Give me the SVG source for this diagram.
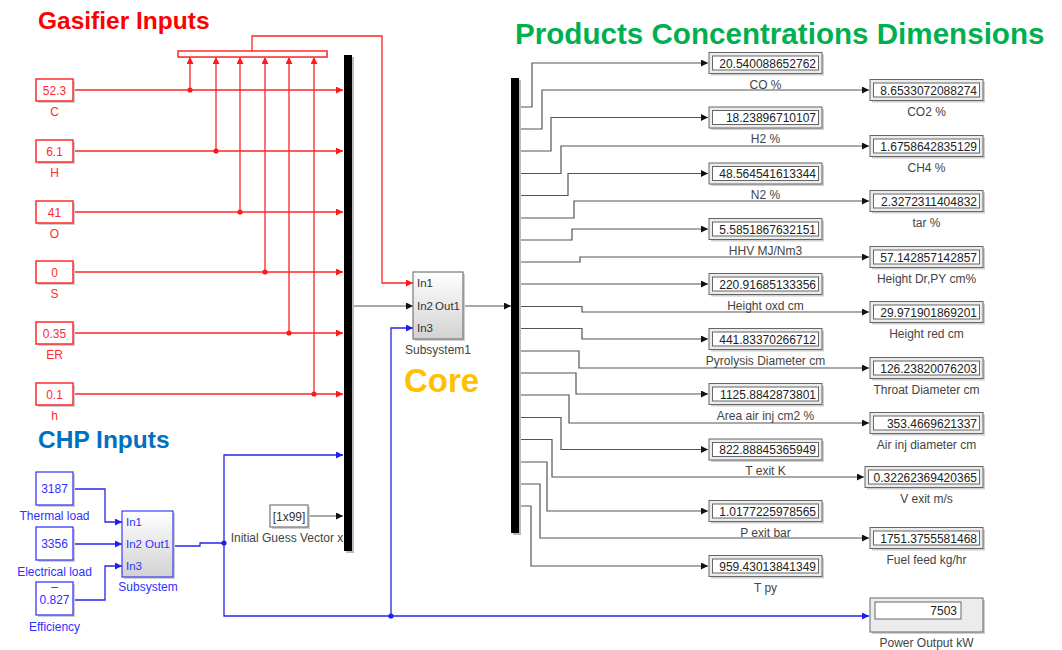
<svg xmlns="http://www.w3.org/2000/svg" width="1062" height="650" viewBox="0 0 1062 650">
<defs>
<marker id="arR" viewBox="0 0 10 10" refX="10" refY="5" markerWidth="8" markerHeight="7" markerUnits="userSpaceOnUse" orient="auto"><path d="M0,0 L10,5 L0,10 z" fill="#ff1a1a"/></marker>
<marker id="arB" viewBox="0 0 10 10" refX="10" refY="5" markerWidth="8" markerHeight="7" markerUnits="userSpaceOnUse" orient="auto"><path d="M0,0 L10,5 L0,10 z" fill="#1f1fee"/></marker>
<marker id="arK" viewBox="0 0 10 10" refX="10" refY="5" markerWidth="8" markerHeight="7" markerUnits="userSpaceOnUse" orient="auto"><path d="M0,0 L10,5 L0,10 z" fill="#111"/></marker>
<linearGradient id="subg" x1="0" y1="0" x2="0" y2="1"><stop offset="0" stop-color="#ffffff"/><stop offset="1" stop-color="#d2d2d2"/></linearGradient>
</defs>
<style>
text{font-family:"Liberation Sans",Arial,Helvetica,sans-serif}
.ttl{font-weight:bold}
.r{stroke:#ff2424;stroke-width:1.3;fill:none}
.b{stroke:#2626f0;stroke-width:1.3;fill:none}
.k{stroke:#555;stroke-width:1.2;fill:none}
.mr{marker-end:url(#arR)}
.mb{marker-end:url(#arB)}
.mk{marker-end:url(#arK)}
.dr{fill:#ff1a1a}
.db{fill:#1f1fee}
.shd{fill:#cfcfcf}
.cr{fill:#fff;stroke:#ff2a2a;stroke-width:1.5}
.cb{fill:#fff;stroke:#3a3aff;stroke-width:1.3}
.tr{font-size:12px;fill:#ff2a2a;text-anchor:middle}
.tb{font-size:12px;fill:#2f2fff;text-anchor:middle}
.do{fill:#ececec;stroke:#666;stroke-width:1}
.di{fill:#fff;stroke:#666;stroke-width:1}
.val{font-size:12px;fill:#222;text-anchor:end}
.lbl{font-size:12px;fill:#444;text-anchor:middle}
.sub{fill:url(#subg);stroke-width:1.2}
.port{font-size:11.5px}
.bar{fill:#000}
</style>

<!-- titles -->
<text class="ttl" x="38" y="29" font-size="24.5" fill="#ff0000">Gasifier Inputs</text>
<text class="ttl" x="38" y="448" font-size="24.5" fill="#0070c0">CHP Inputs</text>
<text class="ttl" x="515" y="44" font-size="29.6" fill="#00b050">Products Concentrations Dimensions</text>
<text class="ttl" x="404" y="392" font-size="33" fill="#ffc000">Core</text>

<!-- connectors -->
<g id="connectors">
  <path class="r mr" d="M73,90 H343"/>
  <path class="r mr" d="M73,151 H343"/>
  <path class="r mr" d="M73,212 H343"/>
  <path class="r mr" d="M73,272 H343"/>
  <path class="r mr" d="M73,333 H343"/>
  <path class="r mr" d="M73,394 H343"/>
  <path class="r mr" d="M190,90 V57"/>
  <path class="r mr" d="M216,151 V57"/>
  <path class="r mr" d="M240,212 V57"/>
  <path class="r mr" d="M265,272 V57"/>
  <path class="r mr" d="M289,333 V57"/>
  <path class="r mr" d="M314,394 V57"/>
  <path class="r mr" d="M252,51 V36 H382 V283 H413"/>
  <circle class="dr" cx="190" cy="90" r="2.6"/>
  <circle class="dr" cx="216" cy="151" r="2.6"/>
  <circle class="dr" cx="240" cy="212" r="2.6"/>
  <circle class="dr" cx="265" cy="272" r="2.6"/>
  <circle class="dr" cx="289" cy="333" r="2.6"/>
  <circle class="dr" cx="314" cy="394" r="2.6"/>
  <path class="b mb" d="M73,489 H105 V522 H122"/>
  <path class="b mb" d="M73,544 H122"/>
  <path class="b mb" d="M73,600 H105 V566 H122"/>
  <path class="b" d="M173,546 H200 V543 H224"/>
  <path class="b mb" d="M224,543 V455 H343"/>
  <path class="b mb" d="M224,543 V616 H869"/>
  <path class="b mb" d="M391,616 V328 H413"/>
  <circle class="db" cx="224" cy="543" r="2.6"/>
  <circle class="db" cx="391" cy="616" r="2.6"/>
  <path class="k mk" d="M308,516 H343"/>
  <path class="k mk" d="M352,306 H413"/>
  <path class="k mk" d="M463,306 H511"/>
  <path class="k mk" d="M519,107 H532 V63 H708"/>
  <path class="k mk" d="M519,129 H542 V90 H869"/>
  <path class="k mk" d="M519,151 H551 V117.5 H708"/>
  <path class="k mk" d="M519,173.5 H561 V146 H869"/>
  <path class="k mk" d="M519,195.5 H568 V173.5 H708"/>
  <path class="k mk" d="M519,218 H574 V201 H869"/>
  <path class="k mk" d="M519,240 H572 V229 H708"/>
  <path class="k mk" d="M519,262 H580 V257 H869"/>
  <path class="k mk" d="M519,284 H708"/>
  <path class="k mk" d="M519,306.5 H582 V312 H869"/>
  <path class="k mk" d="M519,328.5 H582 V339 H708"/>
  <path class="k mk" d="M519,351 H579 V368 H869"/>
  <path class="k mk" d="M519,373 H576 V394 H708"/>
  <path class="k mk" d="M519,395 H569 V423 H869"/>
  <path class="k mk" d="M519,417.5 H561 V449.5 H708"/>
  <path class="k mk" d="M519,439.5 H552 V477 H864"/>
  <path class="k mk" d="M519,462 H547 V511 H708"/>
  <path class="k mk" d="M519,484 H540 V538 H869"/>
  <path class="k mk" d="M519,506 H531 V566 H708"/>
</g>

<!-- gasifier constants -->
<g id="c-C"><rect class="shd" x="38" y="81" width="37" height="22"/><rect class="cr" x="36" y="79" width="37" height="22"/><text class="tr" x="54.5" y="94.5">52.3</text><text class="tr" x="54.5" y="116">C</text></g>
<g id="c-H"><rect class="shd" x="38" y="142" width="37" height="22"/><rect class="cr" x="36" y="140" width="37" height="22"/><text class="tr" x="54.5" y="155.5">6.1</text><text class="tr" x="54.5" y="177">H</text></g>
<g id="c-O"><rect class="shd" x="38" y="203" width="37" height="22"/><rect class="cr" x="36" y="201" width="37" height="22"/><text class="tr" x="54.5" y="216.5">41</text><text class="tr" x="54.5" y="238">O</text></g>
<g id="c-S"><rect class="shd" x="38" y="263" width="37" height="22"/><rect class="cr" x="36" y="261" width="37" height="22"/><text class="tr" x="54.5" y="276.5">0</text><text class="tr" x="54.5" y="298">S</text></g>
<g id="c-ER"><rect class="shd" x="38" y="324" width="37" height="22"/><rect class="cr" x="36" y="322" width="37" height="22"/><text class="tr" x="54.5" y="337.5">0.35</text><text class="tr" x="54.5" y="359">ER</text></g>
<g id="c-h"><rect class="shd" x="38" y="385" width="37" height="22"/><rect class="cr" x="36" y="383" width="37" height="22"/><text class="tr" x="54.5" y="398.5">0.1</text><text class="tr" x="54.5" y="420">h</text></g>

<g id="mux-gas"><rect class="shd" x="179" y="52" width="149" height="6"/><rect x="178" y="51" width="149" height="6" fill="#fff" stroke="#ff2a2a" stroke-width="1.5"/></g>

<!-- CHP constants -->
<g id="c-thermal"><rect class="shd" x="38" y="474" width="37" height="33"/><rect class="cb" x="36" y="472" width="37" height="33"/><text class="tb" x="54.5" y="493">3187</text><text class="tb" x="54.5" y="520">Thermal load</text></g>
<g id="c-elec"><rect class="shd" x="38" y="529" width="37" height="33"/><rect class="cb" x="36" y="527" width="37" height="33"/><text class="tb" x="54.5" y="548">3356</text><text class="tb" x="54.5" y="576">Electrical load</text></g>
<g id="c-eff"><rect class="shd" x="38" y="584" width="37" height="33"/><rect class="cb" x="36" y="582" width="37" height="33"/><text class="tb" x="54.5" y="591" font-size="9">–</text><text class="tb" x="54.5" y="604">0.827</text><text class="tb" x="54.5" y="631">Efficiency</text></g>

<g id="subsystem"><rect class="shd" x="124" y="513" width="51" height="66"/><rect class="sub" x="122" y="511" width="51" height="66" stroke="#3a3aff"/><text class="port" x="126" y="526" fill="#2f2fff">In1</text><text class="port" x="126" y="548" fill="#2f2fff">In2</text><text class="port" x="170" y="548" fill="#2f2fff" text-anchor="end">Out1</text><text class="port" x="126" y="570" fill="#2f2fff">In3</text><text class="tb" x="148" y="591">Subsystem</text></g>

<g id="init-guess"><rect class="shd" x="272" y="507" width="38" height="22"/><rect x="270" y="505" width="38" height="22" fill="#fff" stroke="#777" stroke-width="1.2"/><text x="289" y="520.5" font-size="12" fill="#333" text-anchor="middle">[1x99]</text><text class="lbl" x="287" y="542">Initial Guess Vector x</text></g>

<g id="mux-main"><rect x="346" y="57" width="8" height="496" fill="#bbb"/><rect class="bar" x="344" y="55" width="8" height="496"/></g>
<g id="demux"><rect x="513" y="80" width="8" height="455" fill="#bbb"/><rect class="bar" x="511" y="78" width="8" height="455"/></g>

<g id="subsystem1"><rect class="shd" x="415" y="274" width="50" height="67"/><rect class="sub" x="413" y="272" width="50" height="67" stroke="#777"/><text class="port" x="417" y="287" fill="#333">In1</text><text class="port" x="417" y="310" fill="#333">In2</text><text class="port" x="460" y="310" fill="#333" text-anchor="end">Out1</text><text class="port" x="417" y="332" fill="#333">In3</text><text class="lbl" x="438" y="354">Subsystem1</text></g>

<g id="d-co" transform="translate(709,52.5)"><rect class="shd" x="2" y="2" width="113" height="21"/><rect class="do" width="113" height="21"/><rect class="di" x="3.5" y="3.5" width="106" height="14"/><text class="val" x="107" y="15">20.540088652762</text><text class="lbl" x="56.5" y="36">CO %</text></g>
<g id="d-h2" transform="translate(709,107)"><rect class="shd" x="2" y="2" width="113" height="21"/><rect class="do" width="113" height="21"/><rect class="di" x="3.5" y="3.5" width="106" height="14"/><text class="val" x="107" y="15">18.23896710107</text><text class="lbl" x="56.5" y="36">H2 %</text></g>
<g id="d-n2" transform="translate(709,163)"><rect class="shd" x="2" y="2" width="113" height="21"/><rect class="do" width="113" height="21"/><rect class="di" x="3.5" y="3.5" width="106" height="14"/><text class="val" x="107" y="15">48.564541613344</text><text class="lbl" x="56.5" y="36">N2 %</text></g>
<g id="d-hhv" transform="translate(709,218.5)"><rect class="shd" x="2" y="2" width="113" height="21"/><rect class="do" width="113" height="21"/><rect class="di" x="3.5" y="3.5" width="106" height="14"/><text class="val" x="107" y="15">5.5851867632151</text><text class="lbl" x="56.5" y="36">HHV MJ/Nm3</text></g>
<g id="d-hoxd" transform="translate(709,273.5)"><rect class="shd" x="2" y="2" width="113" height="21"/><rect class="do" width="113" height="21"/><rect class="di" x="3.5" y="3.5" width="106" height="14"/><text class="val" x="107" y="15">220.91685133356</text><text class="lbl" x="56.5" y="36">Height oxd cm</text></g>
<g id="d-pyd" transform="translate(709,328.5)"><rect class="shd" x="2" y="2" width="113" height="21"/><rect class="do" width="113" height="21"/><rect class="di" x="3.5" y="3.5" width="106" height="14"/><text class="val" x="107" y="15">441.83370266712</text><text class="lbl" x="56.5" y="36">Pyrolysis Diameter cm</text></g>
<g id="d-area" transform="translate(709,383.5)"><rect class="shd" x="2" y="2" width="113" height="21"/><rect class="do" width="113" height="21"/><rect class="di" x="3.5" y="3.5" width="106" height="14"/><text class="val" x="107" y="15">1125.8842873801</text><text class="lbl" x="56.5" y="36">Area air inj cm2 %</text></g>
<g id="d-texit" transform="translate(709,439)"><rect class="shd" x="2" y="2" width="113" height="21"/><rect class="do" width="113" height="21"/><rect class="di" x="3.5" y="3.5" width="106" height="14"/><text class="val" x="107" y="15">822.88845365949</text><text class="lbl" x="56.5" y="36">T exit K</text></g>
<g id="d-pexit" transform="translate(709,500.5)"><rect class="shd" x="2" y="2" width="113" height="21"/><rect class="do" width="113" height="21"/><rect class="di" x="3.5" y="3.5" width="106" height="14"/><text class="val" x="107" y="15">1.0177225978565</text><text class="lbl" x="56.5" y="36">P exit bar</text></g>
<g id="d-tpy" transform="translate(709,555.5)"><rect class="shd" x="2" y="2" width="113" height="21"/><rect class="do" width="113" height="21"/><rect class="di" x="3.5" y="3.5" width="106" height="14"/><text class="val" x="107" y="15">959.43013841349</text><text class="lbl" x="56.5" y="36">T py</text></g>

<g id="d-co2" transform="translate(870,79.5)"><rect class="shd" x="2" y="2" width="113" height="21"/><rect class="do" width="113" height="21"/><rect class="di" x="3.5" y="3.5" width="106" height="14"/><text class="val" x="107" y="15">8.6533072088274</text><text class="lbl" x="56.5" y="36">CO2 %</text></g>
<g id="d-ch4" transform="translate(870,135.5)"><rect class="shd" x="2" y="2" width="113" height="21"/><rect class="do" width="113" height="21"/><rect class="di" x="3.5" y="3.5" width="106" height="14"/><text class="val" x="107" y="15">1.6758642835129</text><text class="lbl" x="56.5" y="36">CH4 %</text></g>
<g id="d-tar" transform="translate(870,190.5)"><rect class="shd" x="2" y="2" width="113" height="21"/><rect class="do" width="113" height="21"/><rect class="di" x="3.5" y="3.5" width="106" height="14"/><text class="val" x="107" y="15">2.3272311404832</text><text class="lbl" x="56.5" y="36">tar %</text></g>
<g id="d-hdr" transform="translate(870,246.5)"><rect class="shd" x="2" y="2" width="113" height="21"/><rect class="do" width="113" height="21"/><rect class="di" x="3.5" y="3.5" width="106" height="14"/><text class="val" x="107" y="15">57.142857142857</text><text class="lbl" x="56.5" y="36">Height Dr,PY cm%</text></g>
<g id="d-hred" transform="translate(870,301.5)"><rect class="shd" x="2" y="2" width="113" height="21"/><rect class="do" width="113" height="21"/><rect class="di" x="3.5" y="3.5" width="106" height="14"/><text class="val" x="107" y="15">29.971901869201</text><text class="lbl" x="56.5" y="36">Height red cm</text></g>
<g id="d-throat" transform="translate(870,357.5)"><rect class="shd" x="2" y="2" width="113" height="21"/><rect class="do" width="113" height="21"/><rect class="di" x="3.5" y="3.5" width="106" height="14"/><text class="val" x="107" y="15">126.23820076203</text><text class="lbl" x="56.5" y="36">Throat Diameter cm</text></g>
<g id="d-airinj" transform="translate(870,412.5)"><rect class="shd" x="2" y="2" width="113" height="21"/><rect class="do" width="113" height="21"/><rect class="di" x="3.5" y="3.5" width="106" height="14"/><text class="val" x="107" y="15">353.4669621337</text><text class="lbl" x="56.5" y="36">Air inj diameter cm</text></g>
<g id="d-vexit" transform="translate(865,466.5)"><rect class="shd" x="2" y="2" width="118" height="21"/><rect class="do" width="118" height="21"/><rect class="di" x="3.5" y="3.5" width="111" height="14"/><text class="val" x="112" y="15">0.32262369420365</text><text class="lbl" x="61.5" y="36">V exit m/s</text></g>
<g id="d-fuel" transform="translate(870,527.5)"><rect class="shd" x="2" y="2" width="113" height="21"/><rect class="do" width="113" height="21"/><rect class="di" x="3.5" y="3.5" width="106" height="14"/><text class="val" x="107" y="15">1751.3755581468</text><text class="lbl" x="56.5" y="36">Fuel feed kg/hr</text></g>

<g id="d-power" transform="translate(870,598)"><rect class="shd" x="2" y="2" width="113" height="34"/><rect class="do" width="113" height="34" fill="#f6f6f6"/><rect class="di" x="5" y="4" width="86" height="17"/><text class="val" x="87" y="17">7503</text><text class="lbl" x="56.5" y="49">Power Output kW</text></g>
</svg>
